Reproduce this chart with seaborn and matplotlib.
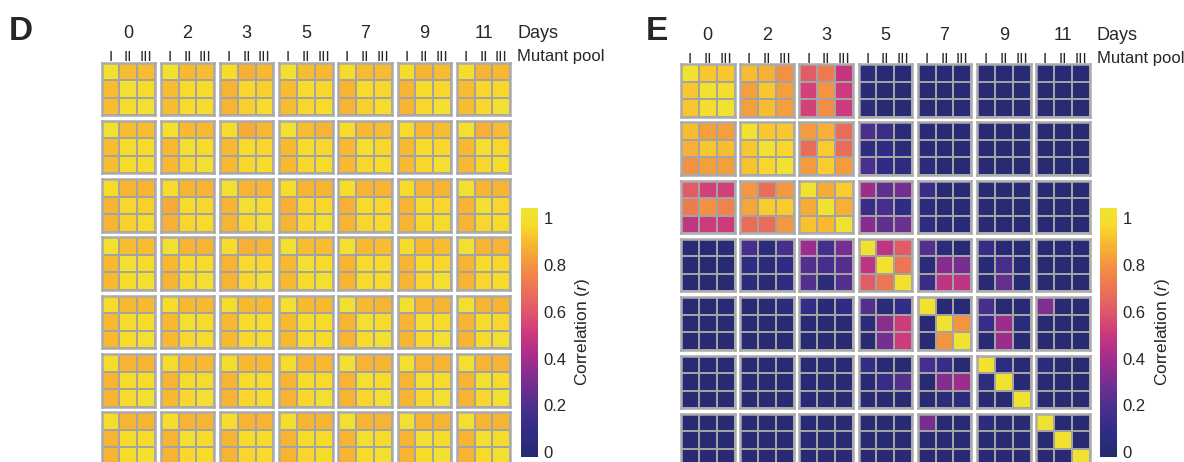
import numpy as np
import matplotlib
matplotlib.use("Agg")
import matplotlib.pyplot as plt
import seaborn as sns
from matplotlib.colors import LinearSegmentedColormap, Normalize
from matplotlib.cm import ScalarMappable

# ---------------- data ----------------
days = ["0", "2", "3", "5", "7", "9", "11"]
pools = ["I", "II", "III"]
cbar_ticks = [0, 0.2, 0.4, 0.6, 0.8, 1]
cbar_ticklabels = ["0", "0.2", "0.4", "0.6", "0.8", "1"]

# Panel D: one list per day (row of blocks), 7 blocks of 3x3 each
D_day0 = [
    [[0.96, 0.87, 0.87], [0.87, 0.96, 0.93], [0.87, 0.93, 0.96]],
    [[0.96, 0.86, 0.87], [0.87, 0.93, 0.93], [0.87, 0.93, 0.94]],
    [[0.93, 0.84, 0.86], [0.85, 0.92, 0.91], [0.85, 0.91, 0.93]],
    [[0.96, 0.87, 0.86], [0.87, 0.94, 0.92], [0.87, 0.92, 0.93]],
    [[0.93, 0.87, 0.87], [0.85, 0.93, 0.92], [0.85, 0.91, 0.94]],
    [[0.93, 0.85, 0.87], [0.85, 0.93, 0.92], [0.85, 0.92, 0.96]],
    [[0.94, 0.85, 0.86], [0.87, 0.92, 0.92], [0.87, 0.92, 0.96]],
]
D_day2 = [
    [[0.96, 0.87, 0.87], [0.87, 0.93, 0.93], [0.87, 0.93, 0.94]],
    [[0.96, 0.86, 0.86], [0.86, 0.96, 0.93], [0.86, 0.92, 0.96]],
    [[0.93, 0.83, 0.86], [0.86, 0.93, 0.92], [0.86, 0.92, 0.93]],
    [[0.96, 0.87, 0.85], [0.86, 0.93, 0.92], [0.86, 0.92, 0.93]],
    [[0.93, 0.86, 0.87], [0.86, 0.95, 0.92], [0.86, 0.92, 0.93]],
    [[0.93, 0.86, 0.87], [0.86, 0.93, 0.92], [0.86, 0.92, 0.95]],
    [[0.96, 0.84, 0.87], [0.86, 0.95, 0.92], [0.86, 0.92, 0.93]],
]
D_day3 = [
    [[0.93, 0.85, 0.85], [0.85, 0.92, 0.91], [0.85, 0.91, 0.93]],
    [[0.93, 0.85, 0.85], [0.83, 0.93, 0.92], [0.84, 0.92, 0.93]],
    [[0.96, 0.85, 0.85], [0.85, 0.96, 0.93], [0.85, 0.92, 0.96]],
    [[0.93, 0.85, 0.85], [0.84, 0.92, 0.92], [0.85, 0.92, 0.95]],
    [[0.93, 0.85, 0.85], [0.84, 0.93, 0.92], [0.85, 0.92, 0.93]],
    [[0.93, 0.85, 0.85], [0.85, 0.93, 0.92], [0.85, 0.92, 0.93]],
    [[0.96, 0.85, 0.85], [0.85, 0.96, 0.92], [0.85, 0.92, 0.93]],
]
D_day5 = [
    [[0.96, 0.87, 0.87], [0.86, 0.96, 0.93], [0.86, 0.93, 0.96]],
    [[0.96, 0.85, 0.85], [0.86, 0.93, 0.93], [0.85, 0.93, 0.96]],
    [[0.93, 0.84, 0.85], [0.85, 0.93, 0.92], [0.85, 0.92, 0.96]],
    [[0.96, 0.87, 0.87], [0.86, 0.96, 0.93], [0.86, 0.93, 0.96]],
    [[0.96, 0.86, 0.87], [0.85, 0.93, 0.93], [0.85, 0.93, 0.93]],
    [[0.93, 0.86, 0.87], [0.85, 0.93, 0.92], [0.85, 0.92, 0.96]],
    [[0.96, 0.85, 0.85], [0.85, 0.93, 0.92], [0.85, 0.92, 0.93]],
]
D_day7 = [
    [[0.93, 0.86, 0.86], [0.86, 0.93, 0.93], [0.86, 0.93, 0.95]],
    [[0.93, 0.86, 0.86], [0.86, 0.95, 0.93], [0.86, 0.92, 0.93]],
    [[0.93, 0.86, 0.86], [0.86, 0.93, 0.93], [0.86, 0.92, 0.93]],
    [[0.95, 0.86, 0.86], [0.86, 0.93, 0.93], [0.86, 0.93, 0.93]],
    [[0.96, 0.86, 0.85], [0.85, 0.96, 0.93], [0.85, 0.93, 0.96]],
    [[0.96, 0.85, 0.85], [0.85, 0.96, 0.93], [0.85, 0.92, 0.96]],
    [[0.96, 0.85, 0.85], [0.85, 0.93, 0.92], [0.85, 0.93, 0.96]],
]
D_day9 = [
    [[0.93, 0.85, 0.85], [0.85, 0.93, 0.93], [0.85, 0.93, 0.96]],
    [[0.93, 0.86, 0.86], [0.85, 0.93, 0.93], [0.86, 0.92, 0.96]],
    [[0.93, 0.86, 0.86], [0.85, 0.93, 0.93], [0.85, 0.92, 0.93]],
    [[0.93, 0.85, 0.86], [0.85, 0.93, 0.93], [0.85, 0.92, 0.96]],
    [[0.96, 0.85, 0.85], [0.85, 0.96, 0.93], [0.85, 0.92, 0.96]],
    [[0.96, 0.85, 0.85], [0.85, 0.96, 0.93], [0.85, 0.92, 0.96]],
    [[0.96, 0.85, 0.85], [0.85, 0.96, 0.93], [0.85, 0.92, 0.96]],
]
D_day11 = [
    [[0.94, 0.85, 0.85], [0.85, 0.93, 0.93], [0.85, 0.93, 0.96]],
    [[0.94, 0.85, 0.85], [0.85, 0.96, 0.93], [0.85, 0.92, 0.93]],
    [[0.94, 0.85, 0.85], [0.85, 0.93, 0.93], [0.85, 0.92, 0.93]],
    [[0.94, 0.85, 0.85], [0.85, 0.93, 0.93], [0.85, 0.92, 0.93]],
    [[0.96, 0.85, 0.85], [0.85, 0.96, 0.93], [0.85, 0.93, 0.96]],
    [[0.96, 0.85, 0.85], [0.85, 0.96, 0.93], [0.85, 0.93, 0.96]],
    [[0.96, 0.85, 0.85], [0.85, 0.96, 0.93], [0.85, 0.93, 0.96]],
]

# Panel E
E_day0 = [
    [[0.97, 0.89, 0.89], [0.89, 0.97, 0.94], [0.89, 0.94, 0.97]],
    [[0.87, 0.84, 0.76], [0.80, 0.89, 0.80], [0.80, 0.87, 0.80]],
    [[0.60, 0.70, 0.48], [0.52, 0.77, 0.50], [0.52, 0.75, 0.50]],
    [[0.07, 0.03, 0.03], [0.04, 0.03, 0.03], [0.07, 0.03, 0.03]],
    [[0.03, 0.03, 0.03], [0.03, 0.03, 0.03], [0.03, 0.03, 0.03]],
    [[0.03, 0.03, 0.03], [0.03, 0.03, 0.03], [0.03, 0.03, 0.03]],
    [[0.03, 0.03, 0.03], [0.03, 0.03, 0.03], [0.03, 0.03, 0.03]],
]
E_day2 = [
    [[0.87, 0.80, 0.80], [0.84, 0.89, 0.87], [0.76, 0.80, 0.80]],
    [[0.97, 0.89, 0.89], [0.89, 0.97, 0.92], [0.88, 0.92, 0.97]],
    [[0.79, 0.84, 0.66], [0.66, 0.90, 0.66], [0.79, 0.90, 0.79]],
    [[0.20, 0.15, 0.05], [0.08, 0.10, 0.05], [0.20, 0.10, 0.08]],
    [[0.04, 0.03, 0.03], [0.04, 0.03, 0.03], [0.06, 0.03, 0.03]],
    [[0.03, 0.03, 0.03], [0.03, 0.03, 0.03], [0.03, 0.03, 0.03]],
    [[0.03, 0.03, 0.03], [0.03, 0.03, 0.03], [0.03, 0.03, 0.03]],
]
E_day3 = [
    [[0.60, 0.52, 0.52], [0.70, 0.76, 0.72], [0.47, 0.50, 0.50]],
    [[0.78, 0.66, 0.78], [0.82, 0.90, 0.90], [0.66, 0.66, 0.78]],
    [[0.97, 0.83, 0.90], [0.83, 0.97, 0.84], [0.88, 0.86, 0.97]],
    [[0.38, 0.25, 0.30], [0.14, 0.18, 0.10], [0.33, 0.25, 0.28]],
    [[0.14, 0.03, 0.03], [0.06, 0.03, 0.03], [0.10, 0.04, 0.04]],
    [[0.03, 0.03, 0.03], [0.03, 0.03, 0.03], [0.03, 0.03, 0.03]],
    [[0.03, 0.03, 0.03], [0.03, 0.03, 0.03], [0.03, 0.03, 0.03]],
]
E_day5 = [
    [[0.03, 0.03, 0.04], [0.03, 0.03, 0.03], [0.03, 0.03, 0.03]],
    [[0.18, 0.06, 0.18], [0.10, 0.05, 0.10], [0.06, 0.04, 0.08]],
    [[0.38, 0.18, 0.30], [0.22, 0.18, 0.22], [0.22, 0.06, 0.22]],
    [[0.97, 0.46, 0.60], [0.46, 0.97, 0.68], [0.60, 0.68, 0.97]],
    [[0.22, 0.05, 0.03], [0.07, 0.33, 0.30], [0.14, 0.46, 0.46]],
    [[0.12, 0.03, 0.03], [0.03, 0.18, 0.03], [0.03, 0.26, 0.03]],
    [[0.03, 0.03, 0.03], [0.03, 0.03, 0.03], [0.03, 0.03, 0.03]],
]
E_day7 = [
    [[0.03, 0.03, 0.04], [0.03, 0.03, 0.03], [0.03, 0.03, 0.03]],
    [[0.03, 0.03, 0.07], [0.03, 0.03, 0.03], [0.03, 0.03, 0.03]],
    [[0.12, 0.04, 0.10], [0.03, 0.03, 0.03], [0.03, 0.03, 0.03]],
    [[0.22, 0.07, 0.12], [0.07, 0.34, 0.50], [0.03, 0.30, 0.50]],
    [[0.97, 0.03, 0.03], [0.03, 0.97, 0.77], [0.03, 0.77, 0.97]],
    [[0.18, 0.03, 0.03], [0.13, 0.38, 0.05], [0.03, 0.38, 0.03]],
    [[0.32, 0.03, 0.03], [0.03, 0.03, 0.03], [0.03, 0.03, 0.03]],
]
E_day9 = [
    [[0.03, 0.03, 0.03], [0.03, 0.03, 0.03], [0.03, 0.03, 0.03]],
    [[0.03, 0.03, 0.03], [0.03, 0.03, 0.03], [0.03, 0.03, 0.03]],
    [[0.03, 0.03, 0.03], [0.03, 0.03, 0.03], [0.03, 0.03, 0.03]],
    [[0.12, 0.03, 0.03], [0.03, 0.13, 0.22], [0.03, 0.03, 0.03]],
    [[0.18, 0.13, 0.03], [0.03, 0.33, 0.38], [0.03, 0.06, 0.06]],
    [[0.97, 0.08, 0.03], [0.08, 0.97, 0.03], [0.03, 0.03, 0.97]],
    [[0.06, 0.03, 0.03], [0.03, 0.03, 0.03], [0.03, 0.03, 0.03]],
]
E_day11 = [
    [[0.03, 0.03, 0.03], [0.03, 0.03, 0.03], [0.03, 0.03, 0.03]],
    [[0.03, 0.03, 0.03], [0.03, 0.03, 0.03], [0.03, 0.03, 0.03]],
    [[0.03, 0.03, 0.03], [0.03, 0.03, 0.03], [0.03, 0.03, 0.03]],
    [[0.03, 0.03, 0.03], [0.03, 0.03, 0.03], [0.03, 0.03, 0.03]],
    [[0.30, 0.03, 0.03], [0.03, 0.03, 0.03], [0.03, 0.03, 0.03]],
    [[0.06, 0.03, 0.03], [0.03, 0.03, 0.03], [0.03, 0.03, 0.03]],
    [[0.97, 0.03, 0.03], [0.03, 0.97, 0.03], [0.03, 0.03, 0.97]],
]

D_rows = [D_day0, D_day2, D_day3, D_day5, D_day7, D_day9, D_day11]
E_rows = [E_day0, E_day2, E_day3, E_day5, E_day7, E_day9, E_day11]

# ---------------- style ----------------
sns.set_style("white")
plt.rcParams["font.family"] = ["Liberation Sans", "DejaVu Sans"]
plt.rcParams["mathtext.fontset"] = "custom"
plt.rcParams["mathtext.rm"] = "Liberation Sans"
plt.rcParams["mathtext.it"] = "Liberation Sans:italic"

cmap = LinearSegmentedColormap.from_list(
    "corr",
    [(0.0, "#262b6e"), (0.1, "#2f2c85"), (0.2, "#4a2f8e"), (0.3, "#772f90"),
     (0.4, "#a52d8c"), (0.5, "#cd3a7c"), (0.6, "#e25c68"), (0.7, "#ee7a50"),
     (0.8, "#f59e3c"), (0.87, "#f8bc30"), (0.93, "#f8da2a"), (1.0, "#ece535")],
)

W, H = 1184, 462
fig = plt.figure(figsize=(W / 100, H / 100), dpi=100)


def px_axes(x, y, w, h):
    return fig.add_axes([x / W, 1 - (y + h) / H, w / W, h / H])


def fx(x):
    return x / W


def fy(y):
    return 1 - y / H


def draw_panel(rows, x0, y0, letter, letter_x, cbar_x):
    bw, bh, pxs, pys = 53.5, 52.5, 59.2, 58.3
    for r, blocks in enumerate(rows):
        for c, blk in enumerate(blocks):
            ax = px_axes(x0 + c * pxs, y0 + r * pys, bw, bh)
            sns.heatmap(np.array(blk), ax=ax, cmap=cmap, vmin=0, vmax=1,
                        cbar=False, linewidths=1.3, linecolor="#a3a3a3",
                        xticklabels=False, yticklabels=False)
            for s in ax.spines.values():
                s.set_visible(True)
                s.set_color("#ababab")
                s.set_linewidth(1.8)
            if r == 0:
                fig.text(fx(x0 + c * pxs + bw / 2), fy(y0 - 24), days[c],
                         ha="center", va="baseline", fontsize=13)
                for j, p in enumerate(pools):
                    fig.text(fx(x0 + c * pxs + bw * (j + 0.5) / 3), fy(y0 - 1.3), p,
                             ha="center", va="baseline", fontsize=11)
    right = x0 + 6 * pxs + bw
    fig.text(fx(right + 7), fy(y0 - 24), "Days", ha="left", va="baseline", fontsize=13)
    fig.text(fx(right + 7), fy(y0 - 1.3), "Mutant pool", ha="left", va="baseline", fontsize=12)
    fig.text(fx(letter_x), fy(40), letter, ha="left", va="baseline",
             fontsize=24, fontweight="bold")

    # colour bar: gradient spans slightly beyond 0..1 as in the reference
    cax = px_axes(cbar_x, 208, 17, 249)
    sm = ScalarMappable(norm=Normalize(vmin=-0.02, vmax=1.042), cmap=cmap)
    cb = fig.colorbar(sm, cax=cax)
    cb.set_ticks(cbar_ticks)
    cb.set_ticklabels(cbar_ticklabels)
    cb.outline.set_visible(False)
    cax.tick_params(length=0, pad=4, labelsize=12)
    fig.text(fx(cbar_x + 62), fy(332), r"Correlation ($\mathit{r}$)", rotation=90,
             ha="center", va="center", fontsize=12.5)


draw_panel(D_rows, 101.5, 62.5, "D", 9, 521)
draw_panel(E_rows, 681, 64, "E", 646, 1100)

fig.savefig("out.png", dpi=100)
